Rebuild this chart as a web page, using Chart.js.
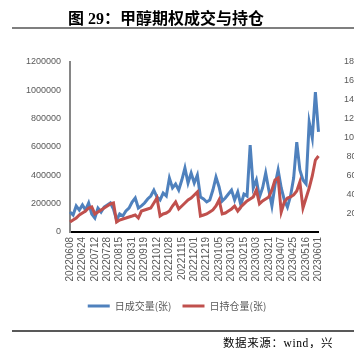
<!DOCTYPE html>
<html>
<head>
<meta charset="utf-8">
<script src="https://cdn.jsdelivr.net/npm/chart.js@4"></script>
<style>
  body { margin: 0; background: #fff; width: 354px; height: 348px; overflow: hidden; position: relative; }
  #chart { position: absolute; left: 0; top: 0; }
  #title { position: absolute; left: 0; width: 332px; top: 5px; line-height: 20px; text-align: center;
           font: bold 16px "Liberation Serif", "Noto Sans CJK SC"; color: #000; }
  .rule { position: absolute; left: 12px; right: 0; background: #7f7f7f; }
  #source { position: absolute; left: 223px; top: 334px; white-space: nowrap; line-height: 14px; letter-spacing: 0.6px;
            font: 11.5px "Liberation Serif", "Noto Sans CJK SC"; color: #000; }
</style>
</head>
<body>
<canvas id="chart" width="354" height="348"></canvas>
<div id="title">图 29：甲醇期权成交与持仓</div>
<div class="rule" style="top:27px;height:2px;"></div>
<div class="rule" style="top:330px;height:2px;background:#595959;"></div>
<div id="source">数据来源：wind，兴</div>

<script>
// datos del gráfico (un punto cada 3 sesiones, una etiqueta cada 12)
const tickLabels = [
    '20220608', '20220624', '20220712', '20220728', '20220815', '20220831', '20220919',
    '20221012', '20221028', '20221115', '20221201', '20221219', '20230105', '20230130',
    '20230215', '20230303', '20230321', '20230407', '20230425', '20230516', '20230601'
];

const seriesNames = ['日成交量(张)', '日持仓量(张)'];

// 日成交量 (eje izquierdo)
const volumeValues = [
    141000, 120000, 184000, 155000, 191000, 155000, 205000, 127000, 99000, 169000,
    141000, 176000, 191000, 205000, 162000, 85000, 127000, 113000, 148000, 169000,
    212000, 240000, 169000, 184000, 205000, 233000, 254000, 296000, 247000, 226000,
    275000, 254000, 381000, 311000, 339000, 296000, 367000, 452000, 346000, 416000,
    346000, 402000, 247000, 233000, 212000, 226000, 296000, 388000, 318000, 219000,
    240000, 268000, 296000, 226000, 282000, 191000, 268000, 254000, 614000, 311000,
    367000, 247000, 311000, 416000, 296000, 184000, 332000, 438000, 311000, 226000,
    176000, 254000, 381000, 635000, 438000, 367000, 339000, 776000, 664000, 988000,
    706000
];

// 日持仓量 (eje derecho)
const openInterestValues = [
    10600, 12700, 14800, 18000, 20100, 22200, 25400, 26500, 19100, 21200,
    23300, 25400, 27500, 29700, 30700, 10600, 12700, 13800, 14800, 15900,
    16900, 18000, 14800, 22200, 23300, 24400, 25400, 30700, 36000, 16900,
    19100, 20100, 22200, 27500, 31800, 24400, 27500, 30700, 33900, 36000,
    39200, 42400, 16900, 18000, 19100, 21200, 23300, 27500, 33900, 19100,
    20100, 22200, 24400, 27500, 22200, 26500, 29700, 32800, 34900, 37100,
    44500, 29700, 32800, 34900, 37100, 44500, 55100, 57200, 21200, 31800,
    36000, 37100, 39200, 43400, 53000, 25400, 36000, 46600, 59300, 76200,
    80500
];

// categorías: solo cada 4º punto lleva fecha
const categories = volumeValues.map((v, i) => i % 4 === 0 ? tickLabels[i / 4] : '');

const tickFont = { family: 'Liberation Sans', size: 9 };
const grey = '#595959';

new Chart(document.getElementById('chart'), {
    type: 'line',
    data: {
        labels: categories,
        datasets: [{
            label: seriesNames[0],
            data: volumeValues,
            yAxisID: 'y',
            borderColor: '#4f81bd',
            backgroundColor: '#4f81bd',
            borderWidth: 3,
            pointRadius: 0,
            order: 2
        }, {
            label: seriesNames[1],
            data: openInterestValues,
            yAxisID: 'y1',
            borderColor: '#c0504d',
            backgroundColor: '#c0504d',
            borderWidth: 3,
            pointRadius: 0,
            order: 1
        }]
    },
    options: {
        responsive: false,
        animation: false,
        layout: { padding: { top: 62, bottom: 27, left: 0, right: 0 } },
        plugins: {
            tooltip: { enabled: false },
            legend: {
                position: 'bottom',
                labels: {
                    boxWidth: 22,
                    boxHeight: 3,
                    padding: 11,
                    color: grey,
                    font: { family: 'Noto Sans CJK SC', size: 10 },
                    sort: (a, b) => a.datasetIndex - b.datasetIndex,
                    generateLabels: chart => Chart.defaults.plugins.legend.labels.generateLabels(chart)
                        .map(l => Object.assign(l, { fillStyle: l.strokeStyle, lineWidth: 0 }))
                }
            }
        },
        scales: {
            x: {
                type: 'category',
                offset: false,
                grid: { display: false, drawTicks: false },
                border: { color: '#000', width: 2 },
                ticks: {
                    autoSkip: false,
                    minRotation: 90,
                    maxRotation: 90,
                    padding: 5,
                    color: grey,
                    font: { family: 'Liberation Sans', size: 10 }
                },
                afterFit: s => { s.height = 58; }
            },
            y: {
                position: 'left',
                min: 0,
                max: 1200000,
                grid: { display: false, drawTicks: false },
                border: { color: '#868686', width: 2 },
                ticks: { stepSize: 200000, padding: 9, color: grey, font: tickFont, callback: v => String(v) },
                afterFit: s => { s.width = 70; }
            },
            y1: {
                position: 'right',
                min: 0,
                max: 180000,
                grid: { display: false, drawTicks: false },
                border: { display: false },
                ticks: { stepSize: 20000, padding: 25.5, crossAlign: 'center', color: grey, font: tickFont, callback: v => String(v) },
                afterFit: s => { s.width = 35.5; }
            }
        }
    }
});
</script>
</body>
</html>
